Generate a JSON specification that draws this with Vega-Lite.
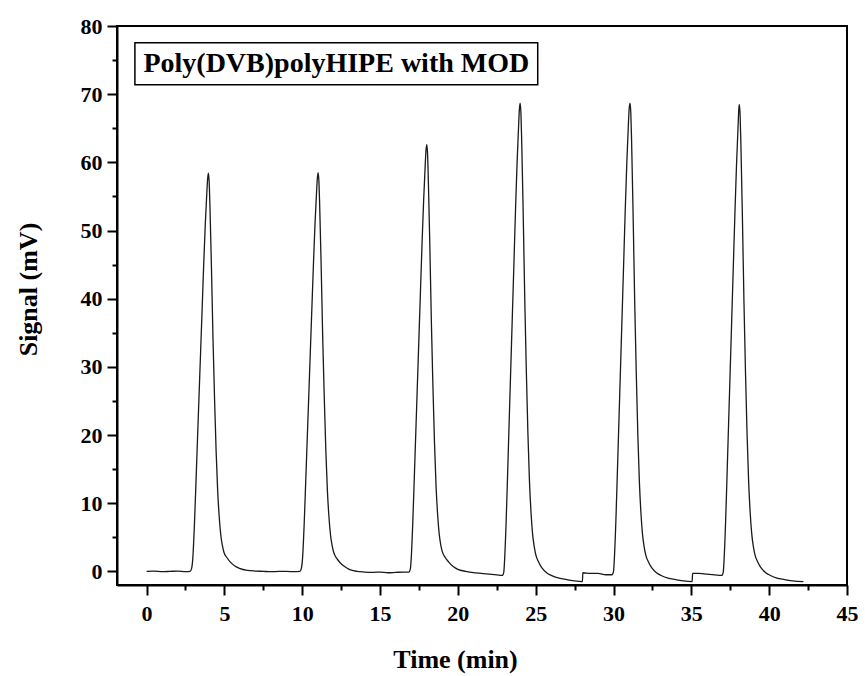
{
  "$schema": "https://vega.github.io/schema/vega-lite/v6.json",
  "width": 730,
  "height": 559,
  "autosize": {"type": "none"},
  "padding": {"left": 117, "top": 26, "right": 18, "bottom": 91},
  "background": "white",
  "config": {
    "view": {"stroke": "black", "strokeWidth": 2},
    "font": "Liberation Serif"
  },
  "datasets": {
    "trace": [
      {"time": 0, "signal": 0.0}, {"time": 0.5, "signal": 0.05}, {"time": 1.0, "signal": -0.05}, {"time": 1.5, "signal": 0.0},
      {"time": 2.0, "signal": 0.05}, {"time": 2.5, "signal": -0.05}, {"time": 2.8, "signal": 0.0}, {"time": 2.9, "signal": 0.5},
      {"time": 2.97, "signal": 1.9},
      {"time": 3.07, "signal": 6.6}, {"time": 3.17, "signal": 12.8}, {"time": 3.27, "signal": 19.3}, {"time": 3.37, "signal": 25.7},
      {"time": 3.47, "signal": 32.1}, {"time": 3.57, "signal": 38.5}, {"time": 3.67, "signal": 45.0}, {"time": 3.77, "signal": 50.8},
      {"time": 3.87, "signal": 55.5}, {"time": 3.92, "signal": 57.5}, {"time": 3.97, "signal": 58.4}, {"time": 4.02, "signal": 57.2},
      {"time": 4.07, "signal": 53.7}, {"time": 4.17, "signal": 44.4}, {"time": 4.27, "signal": 33.9}, {"time": 4.37, "signal": 25.1},
      {"time": 4.47, "signal": 17.5}, {"time": 4.57, "signal": 11.7}, {"time": 4.67, "signal": 7.9}, {"time": 4.77, "signal": 5.3},
      {"time": 4.87, "signal": 3.8}, {"time": 4.97, "signal": 2.8}, {"time": 5.17, "signal": 2.0}, {"time": 5.37, "signal": 1.4},
      {"time": 5.67, "signal": 0.8}, {"time": 5.97, "signal": 0.45}, {"time": 6.47, "signal": 0.15}, {"time": 7.0, "signal": 0.05},
      {"time": 7.5, "signal": 0.0}, {"time": 8.0, "signal": -0.05}, {"time": 8.5, "signal": 0.0}, {"time": 9.0, "signal": 0.0},
      {"time": 9.5, "signal": -0.05}, {"time": 9.85, "signal": 0.0}, {"time": 9.95, "signal": 0.5},
      {"time": 10.02, "signal": 1.9}, {"time": 10.12, "signal": 6.6}, {"time": 10.22, "signal": 12.9}, {"time": 10.32, "signal": 19.3},
      {"time": 10.42, "signal": 25.7}, {"time": 10.52, "signal": 32.2}, {"time": 10.62, "signal": 38.6}, {"time": 10.72, "signal": 45.0},
      {"time": 10.82, "signal": 50.9}, {"time": 10.92, "signal": 55.6}, {"time": 10.97, "signal": 57.6}, {"time": 11.02, "signal": 58.5},
      {"time": 11.07, "signal": 57.3}, {"time": 11.12, "signal": 53.8}, {"time": 11.22, "signal": 44.5}, {"time": 11.32, "signal": 33.9},
      {"time": 11.42, "signal": 25.2}, {"time": 11.52, "signal": 17.5}, {"time": 11.62, "signal": 11.7}, {"time": 11.72, "signal": 7.9},
      {"time": 11.82, "signal": 5.3}, {"time": 11.92, "signal": 3.8}, {"time": 12.02, "signal": 2.8}, {"time": 12.22, "signal": 1.9},
      {"time": 12.42, "signal": 1.3}, {"time": 12.72, "signal": 0.7}, {"time": 13.02, "signal": 0.3}, {"time": 13.52, "signal": 0.0},
      {"time": 14.0, "signal": -0.1}, {"time": 14.5, "signal": -0.15}, {"time": 15.0, "signal": -0.1}, {"time": 15.5, "signal": -0.2},
      {"time": 16.0, "signal": -0.15}, {"time": 16.5, "signal": -0.1}, {"time": 16.85, "signal": -0.1}, {"time": 16.95, "signal": 0.4},
      {"time": 17.0, "signal": 1.8}, {"time": 17.1, "signal": 7.0}, {"time": 17.2, "signal": 13.7}, {"time": 17.3, "signal": 20.6},
      {"time": 17.4, "signal": 27.5}, {"time": 17.5, "signal": 34.4}, {"time": 17.6, "signal": 41.3}, {"time": 17.7, "signal": 48.2},
      {"time": 17.8, "signal": 54.4}, {"time": 17.9, "signal": 59.5}, {"time": 17.95, "signal": 61.7}, {"time": 18.0, "signal": 62.6},
      {"time": 18.05, "signal": 61.4}, {"time": 18.1, "signal": 57.6}, {"time": 18.2, "signal": 47.6}, {"time": 18.3, "signal": 36.3},
      {"time": 18.4, "signal": 26.9}, {"time": 18.5, "signal": 18.7}, {"time": 18.6, "signal": 12.4}, {"time": 18.7, "signal": 8.3},
      {"time": 18.8, "signal": 5.5}, {"time": 18.9, "signal": 3.9}, {"time": 19.0, "signal": 2.9}, {"time": 19.2, "signal": 2.0},
      {"time": 19.4, "signal": 1.4}, {"time": 19.7, "signal": 0.7}, {"time": 20.0, "signal": 0.3}, {"time": 20.5, "signal": 0.0},
      {"time": 21.0, "signal": -0.2}, {"time": 21.5, "signal": -0.3}, {"time": 22.0, "signal": -0.4}, {"time": 22.5, "signal": -0.5},
      {"time": 22.85, "signal": -0.6}, {"time": 22.95, "signal": -0.1},
      {"time": 23.0, "signal": 1.6}, {"time": 23.1, "signal": 7.2}, {"time": 23.2, "signal": 14.6}, {"time": 23.3, "signal": 22.3},
      {"time": 23.4, "signal": 29.9}, {"time": 23.5, "signal": 37.5}, {"time": 23.6, "signal": 45.1}, {"time": 23.7, "signal": 52.8},
      {"time": 23.8, "signal": 59.7}, {"time": 23.9, "signal": 65.3}, {"time": 23.95, "signal": 67.7}, {"time": 24.0, "signal": 68.7},
      {"time": 24.05, "signal": 67.3}, {"time": 24.1, "signal": 63.2}, {"time": 24.2, "signal": 52.1}, {"time": 24.3, "signal": 39.6},
      {"time": 24.4, "signal": 29.2}, {"time": 24.5, "signal": 20.2}, {"time": 24.6, "signal": 13.2}, {"time": 24.7, "signal": 8.6},
      {"time": 24.8, "signal": 5.5}, {"time": 24.9, "signal": 3.7}, {"time": 25.0, "signal": 2.5}, {"time": 25.2, "signal": 1.3},
      {"time": 25.4, "signal": 0.5}, {"time": 25.7, "signal": -0.2}, {"time": 26.0, "signal": -0.6}, {"time": 26.5, "signal": -1.0},
      {"time": 27.0, "signal": -1.2}, {"time": 27.5, "signal": -1.4}, {"time": 28.0, "signal": -1.5}, {"time": 28.03, "signal": -0.2},
      {"time": 28.5, "signal": -0.3}, {"time": 29.0, "signal": -0.3}, {"time": 29.5, "signal": -0.5}, {"time": 29.9, "signal": -0.5},
      {"time": 30.0, "signal": 0.0},
      {"time": 30.05, "signal": 1.7}, {"time": 30.15, "signal": 7.3}, {"time": 30.25, "signal": 14.7}, {"time": 30.35, "signal": 22.3},
      {"time": 30.45, "signal": 29.9}, {"time": 30.55, "signal": 37.5}, {"time": 30.65, "signal": 45.1}, {"time": 30.75, "signal": 52.8},
      {"time": 30.85, "signal": 59.7}, {"time": 30.95, "signal": 65.3}, {"time": 31.0, "signal": 67.7}, {"time": 31.06, "signal": 68.7},
      {"time": 31.11, "signal": 67.3}, {"time": 31.16, "signal": 63.2}, {"time": 31.26, "signal": 52.1}, {"time": 31.36, "signal": 39.6},
      {"time": 31.46, "signal": 29.2}, {"time": 31.56, "signal": 20.2}, {"time": 31.66, "signal": 13.2}, {"time": 31.76, "signal": 8.6},
      {"time": 31.86, "signal": 5.5}, {"time": 31.96, "signal": 3.7}, {"time": 32.06, "signal": 2.5}, {"time": 32.26, "signal": 1.3},
      {"time": 32.46, "signal": 0.5}, {"time": 32.76, "signal": -0.2}, {"time": 33.06, "signal": -0.6}, {"time": 33.5, "signal": -1.0},
      {"time": 34.0, "signal": -1.2}, {"time": 34.5, "signal": -1.4}, {"time": 35.05, "signal": -1.5}, {"time": 35.08, "signal": -0.3},
      {"time": 35.5, "signal": -0.3}, {"time": 36.0, "signal": -0.4}, {"time": 36.5, "signal": -0.5}, {"time": 36.95, "signal": -0.6},
      {"time": 37.05, "signal": -0.1},
      {"time": 37.1, "signal": 1.6}, {"time": 37.2, "signal": 7.2}, {"time": 37.3, "signal": 14.6}, {"time": 37.4, "signal": 22.2},
      {"time": 37.5, "signal": 29.8}, {"time": 37.6, "signal": 37.4}, {"time": 37.7, "signal": 45.0}, {"time": 37.8, "signal": 52.6},
      {"time": 37.9, "signal": 59.5}, {"time": 38.0, "signal": 65.1}, {"time": 38.04, "signal": 67.5}, {"time": 38.08, "signal": 68.5},
      {"time": 38.13, "signal": 67.1}, {"time": 38.18, "signal": 63.0}, {"time": 38.28, "signal": 52.0}, {"time": 38.38, "signal": 39.5},
      {"time": 38.48, "signal": 29.1}, {"time": 38.58, "signal": 20.1}, {"time": 38.68, "signal": 13.2}, {"time": 38.78, "signal": 8.6},
      {"time": 38.88, "signal": 5.5}, {"time": 38.98, "signal": 3.7}, {"time": 39.08, "signal": 2.5}, {"time": 39.28, "signal": 1.3},
      {"time": 39.48, "signal": 0.5}, {"time": 39.78, "signal": -0.2}, {"time": 40.08, "signal": -0.6}, {"time": 40.5, "signal": -1.0},
      {"time": 41.0, "signal": -1.2}, {"time": 41.5, "signal": -1.4}, {"time": 42.2, "signal": -1.5}
    ],
    "box": [{"x1": -0.75, "x2": 25.13, "y1": 71.4, "y2": 77.55}],
    "label": [{"x": 12.19, "y": 74.45, "text": "Poly(DVB)polyHIPE with MOD"}]
  },
  "layer": [
    {
      "data": {"name": "trace"},
      "mark": {"type": "line", "color": "#1a1a1a", "strokeWidth": 1.3, "interpolate": "monotone"},
      "encoding": {
        "x": {
          "field": "time", "type": "quantitative",
          "scale": {"domain": [-1.9, 45], "nice": false, "zero": false},
          "axis": {
            "orient": "bottom", "values": [0, 5, 10, 15, 20, 25, 30, 35, 40, 45], "grid": false,
            "domainColor": "black", "domainWidth": 2, "tickColor": "black", "tickWidth": 2, "tickSize": 10,
            "labelFont": "Liberation Serif", "labelFontWeight": "bold", "labelFontSize": 22, "labelColor": "black",
            "labelPadding": 8, "labelFlush": false, "labelOverlap": false,
            "title": "Time (min)", "titleFont": "Liberation Serif", "titleFontWeight": "bold", "titleFontSize": 26,
            "titleColor": "black", "titleX": 338, "titleY": 82, "titleBaseline": "alphabetic", "titleAlign": "center"
          }
        },
        "y": {
          "field": "signal", "type": "quantitative",
          "scale": {"domain": [-2, 80], "nice": false, "zero": false},
          "axis": {
            "orient": "left", "values": [0, 10, 20, 30, 40, 50, 60, 70, 80], "grid": false,
            "domainColor": "black", "domainWidth": 2, "tickColor": "black", "tickWidth": 2, "tickSize": 10,
            "labelFont": "Liberation Serif", "labelFontWeight": "bold", "labelFontSize": 22, "labelColor": "black",
            "labelPadding": 5, "labelFlush": false, "labelOverlap": false,
            "title": "Signal (mV)", "titleFont": "Liberation Serif", "titleFontWeight": "bold", "titleFontSize": 26,
            "titleColor": "black", "titleX": -89, "titleY": 263, "titleBaseline": "middle", "titleAlign": "center", "titleAngle": -90
          }
        }
      }
    },
    {
      "data": {"name": "box"},
      "mark": {"type": "rect", "fill": "white", "stroke": "black", "strokeWidth": 1.5},
      "encoding": {
        "x": {
          "field": "x1", "type": "quantitative",
          "scale": {"domain": [-1.9, 45], "nice": false, "zero": false},
          "axis": {
            "orient": "bottom", "values": [2.5, 7.5, 12.5, 17.5, 22.5, 27.5, 32.5, 37.5, 42.5],
            "labels": false, "domain": false, "grid": false, "title": null,
            "tickColor": "black", "tickWidth": 2, "tickSize": 5
          }
        },
        "x2": {"field": "x2"},
        "y": {
          "field": "y1", "type": "quantitative",
          "scale": {"domain": [-2, 80], "nice": false, "zero": false},
          "axis": {
            "orient": "left", "values": [5, 15, 25, 35, 45, 55, 65, 75],
            "labels": false, "domain": false, "grid": false, "title": null,
            "tickColor": "black", "tickWidth": 2, "tickSize": 5
          }
        },
        "y2": {"field": "y2"}
      }
    },
    {
      "data": {"name": "label"},
      "mark": {"type": "text", "font": "Liberation Serif", "fontWeight": "bold", "fontSize": 28, "color": "black", "align": "center", "baseline": "middle"},
      "encoding": {
        "x": {"field": "x", "type": "quantitative", "scale": {"domain": [-1.9, 45], "nice": false, "zero": false}, "axis": null},
        "y": {"field": "y", "type": "quantitative", "scale": {"domain": [-2, 80], "nice": false, "zero": false}, "axis": null},
        "text": {"field": "text"}
      }
    }
  ],
  "resolve": {"axis": {"x": "independent", "y": "independent"}}
}
